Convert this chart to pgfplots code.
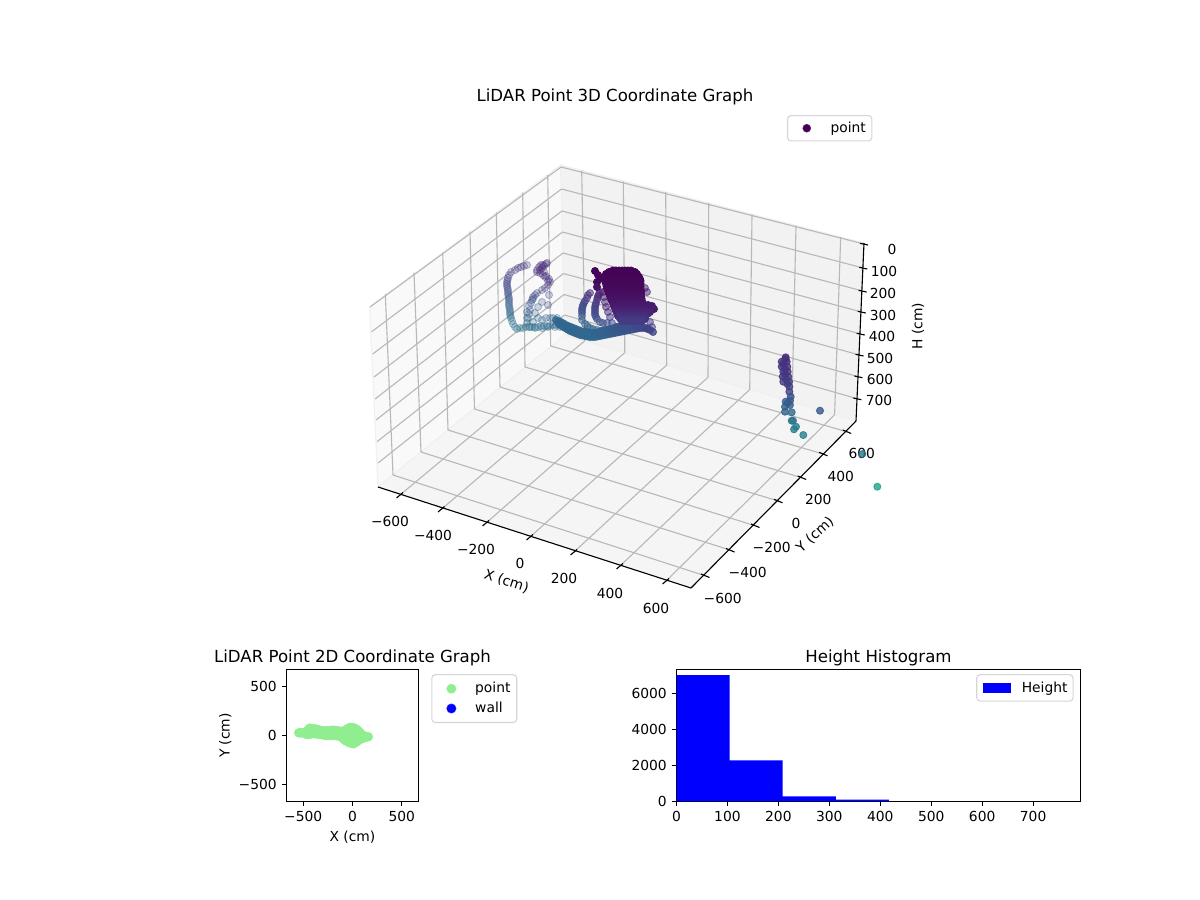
\documentclass[border=0pt]{standalone}
\usepackage{fontspec}
\setmainfont{DejaVu Sans}
\usepackage{pgfplots}
\pgfplotsset{compat=1.18}
\definecolor{pane}{HTML}{F0F0F0}
\definecolor{gridc}{HTML}{B8B8B8}
\definecolor{legb}{HTML}{CCCCCC}
\definecolor{lgreen}{HTML}{90EE90}
\definecolor{vdark}{HTML}{440154}
\newcommand\gl[4]{\addplot[gridc,line width=0.8bp,forget plot] coordinates {(#1,#2)(#3,#4)};}
\newcommand\al[4]{\addplot[black,line width=0.8bp,forget plot] coordinates {(#1,#2)(#3,#4)};}
\newcommand\tl[3]{\node[font=\fontsize{10}{12}\selectfont] at (axis cs:#1,#2) {#3};}
\pgfplotsset{
  pts/.style n args={2}{scatter,only marks,mark=*,mark size=2.55bp,forget plot,point meta=explicit,
    scatter/use mapped color={draw=mapped color,fill=mapped color,line width=0.6bp,draw opacity=#1,fill opacity=#2}},
  legbox/.style={legend style={draw=legb,line width=0.8bp,rounded corners=2.5pt,font=\fontsize{10}{12}\selectfont,fill=white,fill opacity=0.8,draw opacity=0.8,text opacity=1},legend cell align=left},
  dot/.style n args={2}{legend image code/.code={\path (0,-0.05in) (0.36in,0.05in);\fill[#1,fill opacity=1,sharp corners] (0.155in,0) circle (#2);}},
  twod/.style={scale only axis,axis line style={line width=0.8bp},tick style={black,line width=0.8bp},tick align=outside,
    major tick length=3.5bp,xtick pos=bottom,ytick pos=left,
    ticklabel style={font=\fontsize{10}{12}\selectfont},
    label style={font=\fontsize{10}{12}\selectfont},
    title style={font=\fontsize{12}{14}\selectfont,yshift=-6.8pt}}
}
\begin{document}
\begin{tikzpicture}
\path[use as bounding box] (0,0) rectangle (12in,9in);
\begin{axis}[name=canvas,width=12in,height=9in,scale only axis,hide axis,xmin=0,xmax=1200,ymin=0,ymax=900,y dir=reverse,clip=false,
  colormap/viridis,point meta min=0,point meta max=1]
% panes
\addplot[fill=white!97.5!black,draw=pane,line width=0.8bp,forget plot] coordinates {(369.5,307)(560.7,165)(565,335)(378,487)} -- cycle;
\addplot[fill=white!95!black,draw=pane,line width=0.8bp,forget plot] coordinates {(560.7,165)(864,243)(856,421)(565,335)} -- cycle;
\addplot[fill=white!96.2!black,draw=pane,line width=0.8bp,forget plot] coordinates {(378,487)(565,335)(856,421)(691,588)} -- cycle;
% grid: X lines, back pane then floor
\gl{581.7}{170.5}{584.8}{340.8}\gl{623.3}{181.3}{624.8}{352.7}\gl{665.7}{192.2}{666.7}{365.1}\gl{708.7}{203.2}{708}{377.3}
\gl{752}{214.3}{749.7}{389.6}\gl{796}{225.7}{792}{402}\gl{840.7}{237.2}{834.6}{414.7}
\gl{400}{495}{584.8}{340.8}\gl{441.7}{509}{624.8}{352.7}\gl{486}{523}{666.7}{365.1}\gl{530}{537}{708}{377.3}
\gl{574}{552}{749.7}{389.6}\gl{620}{566}{792}{402}\gl{666}{581}{834.6}{414.7}
% grid: Y lines, left pane then floor
\gl{385.3}{294}{393}{475}\gl{414}{272.7}{421}{452}\gl{442.7}{252.7}{448}{430}\gl{470}{231.7}{474.5}{409}
\gl{496.3}{212.3}{500}{387}\gl{522.7}{192.7}{525}{367}\gl{547.7}{175}{550.7}{346}
\gl{393}{475}{705}{575.7}\gl{421}{452}{730}{550}\gl{448}{430}{755}{525.7}\gl{474.5}{409}{778.3}{501}
\gl{500}{387}{801.7}{477.7}\gl{525}{367}{823.3}{454}\gl{550.7}{346}{846.7}{431.7}
% grid: H lines, right and left pane
\gl{561}{167}{864}{244}\gl{561.5}{189}{863.2}{268}\gl{562}{211}{862.6}{291}\gl{562.5}{232}{861.7}{312}
\gl{563}{253}{860.7}{334}\gl{563.5}{273.5}{859.5}{355}\gl{564}{294.5}{858.4}{376.7}\gl{564.5}{315}{857.3}{398.7}
\gl{561}{167}{370}{307}\gl{561.5}{189}{371.7}{331.7}\gl{562}{211}{372.7}{354}\gl{562.5}{232}{374}{377}
\gl{563}{253}{375}{399}\gl{563.5}{273.5}{376}{420}\gl{564}{294.5}{377}{441.7}\gl{564.5}{315}{378}{463}
% axes lines
\al{378}{487}{691}{588}\al{691}{588}{856}{421}\al{864}{243}{856}{421}
% X ticks
\al{396.5}{498}{403}{492.5}\al{438}{512}{444.5}{506.5}\al{482.5}{526}{489}{520.5}\al{526.5}{540}{533}{534.5}
\al{570.5}{555}{577}{549.5}\al{616.5}{569}{623}{563.5}\al{662.5}{584}{669}{578.5}
% Y ticks
\al{701}{574}{709.5}{577.5}\al{726}{548.5}{734.5}{552}\al{751}{524}{759.5}{527.5}\al{774}{499.3}{782.5}{502.8}
\al{797.7}{476}{806.2}{479.5}\al{819}{452.3}{827.5}{455.8}\al{842.7}{430}{851.2}{433.5}
% H ticks
\al{860}{243.3}{868}{245}\al{859.2}{267.3}{867.2}{269}\al{858.6}{290.3}{866.6}{292}\al{857.7}{311.3}{865.7}{313}
\al{856.7}{333.3}{864.7}{335}\al{855.5}{354.3}{863.5}{356}\al{854.4}{376}{862.4}{377.7}\al{853.3}{398}{861.3}{399.7}
% labels
\tl{390}{521.5}{−600}\tl{433}{535}{−400}\tl{476}{549}{−200}\tl{520}{563}{0}\tl{564}{578}{200}\tl{610}{593}{400}\tl{656}{608}{600}
\tl{722.7}{598}{−600}\tl{747.7}{572.3}{−400}\tl{771.7}{547.3}{−200}\tl{796}{523}{0}\tl{818.3}{499.3}{200}\tl{840.7}{476}{400}\tl{861.7}{453}{600}
\tl{892}{249}{0}\tl{884}{271}{100}\tl{883}{293}{200}\tl{883}{315}{300}\tl{882}{336}{400}\tl{880}{358}{500}\tl{880}{379}{600}\tl{879}{400}{700}
\node[font=\fontsize{10}{12}\selectfont,rotate=-18] at (axis cs:506.5,581.5) {X (cm)};
\node[font=\fontsize{10}{12}\selectfont,rotate=42] at (axis cs:815,535) {Y (cm)};
\node[font=\fontsize{10}{12}\selectfont,rotate=90] at (axis cs:918,326) {H (cm)};
\node[font=\fontsize{12}{14}\selectfont] at (axis cs:615,97) {LiDAR Point 3D Coordinate Graph};
% left loop
\addplot[pts={0.38}{0.24}] coordinates {
(527,265)[.17](524,266)[.17](521,267)[.17](518,268)[.18](515,270)[.18](511,272)[.19](509,275)[.19](508,278)[.2](507,282)[.2](507,286)[.21](508,290)[.22](508,294)[.24](509,298)[.26](509,302)[.28](509,306)[.3](510,310)[.32](510,314)[.34](511,318)[.36](512,321)[.37](513,324)[.38](515,327)[.39](517,329)[.39](520,328)[.38](523,328)[.37](526,327)[.37](529,327)[.36](532,327)[.36](535,327)[.35](538,327)[.35](541,326)[.35](544,326)[.34](547,326)[.34](550,326)[.34](553,325)[.33](556,325)[.33]
(507.5,280)[.2](507,284)[.2](507.5,288)[.21](508,292)[.23](508.5,296)[.25](509,300)[.27](509,304)[.29](509.5,308)[.31](510,312)[.33](510.5,316)[.35]
(547,263)[.12](543,265)[.12](539,267)[.12](537,270)[.13](537,272)[.13](540,273)[.13](543,275)[.14](546,276)[.14](549,279)[.15](550,282)[.15](548,285)[.16](545,288)[.18](542,290)[.2](549,295)[.2](537,293)[.22](533,297)[.24](532,300)[.25](531,303)[.26](542,302)[.26](548,305)[.25](538,307)[.28](530,310)[.29](527,312)[.3](535,313)[.3](528,318)[.32](527,323)[.34](533,322)[.34](542,320)[.33](550,318)[.33](557,318)[.33](530,327)[.36](535,328)[.36](542,328)[.35](548,327)[.35](555,327)[.34](560,327)[.33]
(546,264)[.12](542,268)[.12](540,270)[.12](544,272)[.13](545,277)[.14](548,281)[.15](544,266)[.12](541,265)[.12](535,295)[.23](533,299)[.24](529,306)[.27](529,314)[.31](527,318)[.33](538,318)[.33](546,318)[.33](553,318)[.33]
};
% fingers
\addplot[pts={0.6}{0.5}] coordinates {
(590,293)[.13](588,295)[.14](587,298)[.15](585,301)[.17](584,303)[.19](583,305)[.2](582.5,307)[.21](582,309)[.22](582,311)[.24](582,313)[.25](582,316)[.27](582,320)[.3](585,324)[.3](587.5,326)[.31](590,328)[.32](593,329)[.32](597,330)[.31]
(600,292)[.1](599,294)[.1](598,296)[.11](597.5,298)[.12](597,300)[.13](596,303)[.15](595.5,305)[.16](595,307)[.17](595,309)[.18](595,311)[.2](595,313)[.21](595,315)[.22](596,317)[.23](597,319)[.24](600,322)[.25](603,323)[.25](607,323)[.24](612,323)[.23]
(603,292)[.07](604,297)[.08](605,302)[.09](606,307)[.11](608,312)[.13](610,317)[.16]
(647,292)[.09](645,288)[.08](640,318)[.17](650,322)[.17](647,328)[.2](645,319)[.17](652,327)[.18]
};
% band
\addplot[pts={0.85}{0.8}] coordinates {
(556,320)[.33](558.5,321)[.33](561,322)[.33](563.5,323.5)[.33](566,325)[.33](568.5,326)[.33](571,327)[.33](573.5,328)[.33](576,329)[.33](578.5,330)[.33](581,331)[.33](583.5,331.5)[.33](586,332)[.33](588.5,332.5)[.33](591,333)[.33](593.5,333)[.33](596,333)[.32](598.5,332)[.32](601,331)[.31](603.5,330.5)[.31](606,330)[.3](608.5,329.5)[.29](611,329)[.28](613.5,328)[.28](616,327)[.27](618.5,326.5)[.26](621,326)[.25](623.5,325.5)[.25](626,325)[.24](628.5,324.5)[.24](631,324)[.23](633.5,323.5)[.23](636,323)[.22](638.5,322.5)[.21](641,322)[.2]
(558,323)[.33](560.5,324.5)[.33](563,326)[.33](565.5,327.5)[.33](568,329)[.33](570.5,330)[.33](573,331)[.33](575.5,332)[.33](578,333)[.33](580.5,333.5)[.33](583,334)[.33](585.5,334.5)[.34](588,335)[.34](590.5,335)[.34](593,335)[.33](595.5,335)[.33](598,334.5)[.32](600.5,334)[.32](603,333)[.31](605.5,332.5)[.3](608,332)[.3](610.5,331)[.29](613,330.5)[.28](615.5,330)[.27](618,329)[.27](620.5,328.5)[.26](623,328)[.25](625.5,327.5)[.25](628,327)[.24](630.5,326.5)[.24](633,326)[.23](635.5,325.5)[.23](638,325)[.22]
(560,325)[.33](562.5,326.5)[.33](565,328)[.33](567.5,329.5)[.33](570,331)[.33](572.5,332)[.33](575,333)[.33](577.5,334)[.33](580,335)[.34](582.5,335.5)[.34](585,336)[.34](587.5,336.5)[.34](590,337)[.34](592.5,337)[.34](595,337)[.33](597.5,336.5)[.33](600,336)[.32](602.5,335.5)[.32](605,335)[.31](607.5,334.5)[.31](610,334)[.3](612.5,333.5)[.29](615,333)[.28](617.5,332.5)[.28](620,332)[.27](622.5,331.5)[.26](625,331)[.26](627.5,330.5)[.25](630,330)[.25](632.5,329.5)[.24](635,329)[.24](637.5,328.5)[.23](640,328)[.22](642.5,328)[.22](645,328)[.21](647.5,329)[.2](650,330)[.2](653,332)[.2]
};
% dense mass
\addplot[pts={1}{1}] coordinates {
(595,271)[.01](598,275)[.01](597,282)[.02](597,287)[.04](600,279)[.015]
(613,270.5)[.005](616,270.5)[.005](619,270.5)[.005](622,270.5)[.005](625,270.5)[.005](628,270.5)[.005](631,270.5)[.005](609,272)[.005](635,272)[.005]
(606,274)[.006](611,273.5)[.006](617,273.5)[.006](622,273.5)[.006](627,273.5)[.006](632,273.5)[.006](637,274)[.006]
(605,276)[.008](610,276)[.008](615,276)[.008](620,276)[.008](625,276)[.008](630,276)[.008](635,276)[.008](639,277)[.008]
(605,278.5)[.01](611,278.5)[.01](617,278.5)[.01](623,278.5)[.01](629,278.5)[.01](635,278.5)[.01](640,279)[.01]
(605.5,281)[.012](610,281)[.012](615,281)[.012](620,281)[.012](625,281)[.012](630,281)[.012](635,281)[.012](640.5,281)[.012]
(606,283.5)[.014](611,283.5)[.014](617,283.5)[.014](623,283.5)[.014](629,283.5)[.014](635,283.5)[.014](640.5,283.5)[.014]
(606.5,286)[.017](611,286)[.017](615,286)[.017](620,286)[.017](625,286)[.017](630,286)[.017](635,286)[.017](640.5,286)[.017]
(607,288.5)[.02](612,288.5)[.02](617,288.5)[.02](623,288.5)[.02](629,288.5)[.02](635,288.5)[.02](640.5,288.5)[.02]
(608,291)[.024](612,291)[.024](616,291)[.024](620,291)[.024](625,291)[.024](630,291)[.024](635,291)[.024](641,291)[.024]
(609,293.5)[.028](614,293.5)[.028](619,293.5)[.028](624,293.5)[.028](630,293.5)[.028](636,293.5)[.028](641,293.5)[.028]
(610,296)[.033](614,296)[.033](618,296)[.033](622,296)[.033](626,296)[.033](631,296)[.033](636,296)[.033](641,296)[.033]
(611,298.5)[.04](616,298.5)[.04](621,298.5)[.04](626,298.5)[.04](631,298.5)[.04](637,298.5)[.04](641.5,298.5)[.04]
(612,301)[.047](616,301)[.047](620,301)[.047](624,301)[.047](628,301)[.047](633,301)[.047](638,301)[.047](642,301)[.047]
(613,303.5)[.055](618,303.5)[.055](623,303.5)[.055](628,303.5)[.055](633,303.5)[.055](638,303.5)[.055](643,303.5)[.055]
(652,306)[.07](648,305)[.07](654,309)[.07]
(614,306)[.065](618,306)[.065](622,306)[.065](626,306)[.065](630,306)[.065](635,306)[.065](640,306)[.065](644,306)[.065]
(615,308.5)[.075](620,308.5)[.075](625,308.5)[.075](630,308.5)[.075](635,308.5)[.075](640,308.5)[.075](646,308.5)[.075](651,309)[.075]
(616,311)[.09](620,311)[.09](624,311)[.09](628,311)[.09](632,311)[.09](636,311)[.09](641,311)[.09](647,311)[.09](650,312)[.09]
(617,313.5)[.105](622,313.5)[.105](627,313.5)[.105](632,313.5)[.105](637,313.5)[.105](642,313.5)[.105](648,313.5)[.105]
(618,316)[.125](622,316)[.125](626,316)[.125](630,316)[.125](634,316)[.125](639,316)[.125](645,316)[.125]
(620,318.5)[.145](625,318.5)[.145](630,318.5)[.145](635,318.5)[.145](640,318.5)[.145](645,318.5)[.145]
(622,321)[.17](626,321)[.17](630,321)[.17](634,321)[.17](638,321)[.17](642,321)[.17]
};
% right wall
\addplot[pts={0.85}{0.8}] coordinates {
(785.7,357.3)[.13](781.7,361.7)[.13](786.7,361.7)[.13](781.7,366.7)[.14](787.3,366.7)[.14](783.3,371.7)[.15](787.7,371.7)[.15](782.7,376.7)[.16](788.3,376.7)[.16](783.3,381.7)[.17](789,381.7)[.17](789.3,386.7)[.19](789.3,391.7)[.2](790.7,396.7)[.24](790,400.7)[.28](785.7,401.7)[.28](785,406.7)[.3](790,405)[.3](785,411.7)[.33](791.7,412.3)[.34](791.7,420.7)[.39](793,420.7)[.39](796,426.7)[.41](794,429.3)[.42](803.3,435)[.43](820,410.7)[.27](862.3,454)[.39](877.3,486.7)[.57](785.5,359)[.13](783,364)[.14](785,369)[.15](785,374)[.16](786,379)[.17](787.5,384)[.18](787.7,403)[.29]
};
\end{axis}
% legend of the 3D plot
\begin{axis}[width=12in,height=9in,scale only axis,hide axis,xmin=0,xmax=1,ymin=0,ymax=1,legbox,dot={vdark}{0.037in},
  legend style={at={(0.6558,0.8722)},anchor=north west,inner xsep=2.3pt,inner ysep=2.6pt}]
\addlegendimage{}\addlegendentry{point}
\end{axis}
% 2D scatter
\begin{axis}[twod,at={(2.865in,0.985in)},anchor=south west,width=1.32in,height=1.32in,xmin=-670,xmax=670,ymin=-670,ymax=670,
  xtick={-500,0,500},xticklabels={−500,0,500},ytick={-500,0,500},yticklabels={−500,0,500},
  xlabel={X (cm)},ylabel={Y (cm)},ylabel shift=-1.5bp,title={LiDAR Point 2D Coordinate Graph},legbox,
  legend style={at={(1.097,0.965)},anchor=north west,inner xsep=2.5pt,inner ysep=3.6pt,row sep=1.2pt}]
\addplot[only marks,mark=*,mark size=3.2bp,color=lgreen,mark options={draw=lgreen,fill=lgreen},dot={lgreen}{0.044in}] coordinates {
(-545,27)(-525,27)(-510,27)(-495,28)(-480,30)(-470,38)(-460,45)(-447,60)(-434,74)(-417,71)(-400,68)(-383,66)(-366,64)(-348,58)(-330,52)(-314,50)(-298,47)(-274,48)(-250,50)(-224,52)(-197,54)(-174,51)(-150,48)(-122,44)(-95,40)(-78,50)(-60,62)(-44,72)(-27,81)(-11,81)(5,80)(22,72)(40,64)(52,52)(65,40)(78,26)(91,13)(105,3)(120,-5)(142,-14)(160,-13)
(-468,11)(-450,13)(-430,15)(-415,18)(-400,20)(-380,18)(-360,15)(-335,11)(-310,8)(-287,4)(-264,0)(-232,0)(-200,0)(-165,-3)(-129,-6)(-115,-15)(-100,-25)(-90,-36)(-78,-47)(-60,-58)(-40,-70)(-17,-78)(7,-84)(24,-75)(40,-65)(58,-52)(75,-40)(92,-32)(110,-25)(130,-20)
(-30,0)(0,0)(30,10)(0,40)(-30,30)(-60,10)(-30,-40)(10,-40)(60,0)(90,-15)(-430,45)(-380,40)(-330,25)(-280,25)(-230,25)(-170,20)(-110,15)
};
\addlegendentry{point}
\addlegendimage{dot={blue}{0.044in}}
\addlegendentry{wall}
\end{axis}
% histogram
\begin{axis}[twod,at={(6.765in,0.985in)},anchor=south west,width=4.04in,height=1.32in,xmin=0,xmax=793,ymin=0,ymax=7317,
  xtick={0,100,...,700},ytick={0,2000,4000,6000},scaled y ticks=false,
  /pgf/number format/assume math mode=true,/pgf/number format/1000 sep={},
  title={Height Histogram},legbox,
  legend style={at={(0.983,0.965)},anchor=north east,inner xsep=2pt,inner ysep=3pt},
  legend image code/.code={\path (-0.03in,0) (0.365in,0);\fill[blue,sharp corners,fill opacity=1] (0,-0.05in) rectangle (0.28in,0.05in);}]
\addplot[ybar interval,fill=blue,draw=none] coordinates {(0,7000)(104.2,2278)(208.4,278)(312.6,110)(416.8,0)};
\addlegendentry{Height}
\end{axis}
\end{tikzpicture}
\end{document}
